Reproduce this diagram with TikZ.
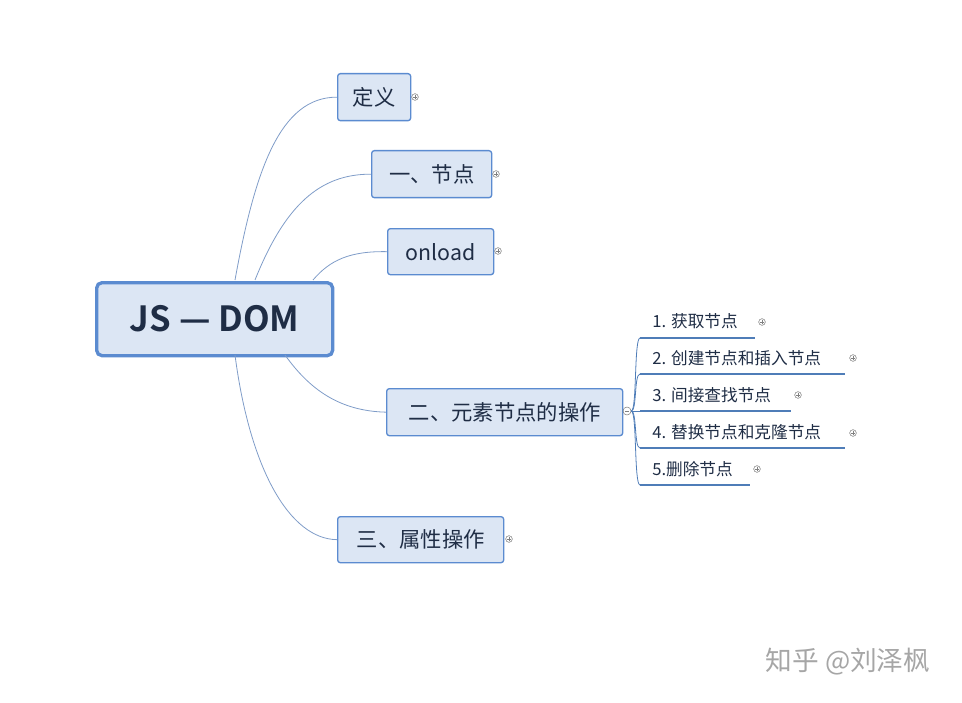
\documentclass[tikz,border=0pt]{standalone}
\usepackage{fontspec}
\setmainfont{Noto Sans CJK SC}[BoldFont=Noto Sans CJK SC Bold]
\definecolor{boxfill}{HTML}{DCE6F4}
\definecolor{boxline}{HTML}{5B8BD0}
\definecolor{txt}{HTML}{1F2D45}
\definecolor{conn}{HTML}{7F9CC8}
\definecolor{uline}{HTML}{4F7DB8}
\begin{document}
\begin{tikzpicture}[x=0.75pt,y=-0.75pt,
  topic/.style={draw=boxline,fill=boxfill,rounded corners=2pt,line width=1pt,text=txt,font=\fontsize{16}{16}\selectfont,inner sep=0pt,anchor=north west},
  sub/.style={anchor=west,text=txt,font=\fontsize{12.5}{12.5}\selectfont,inner sep=0pt},
  con/.style={draw=conn,line width=0.6pt},
  ul/.style={draw=uline,line width=1.6pt},
  pm/.style={circle,draw=gray,line width=0.4pt,minimum size=5pt,inner sep=0pt}]
\useasboundingbox (0,0) rectangle (962,702);
\node[topic,line width=2.5pt,rounded corners=4pt,minimum width=177pt,minimum height=54.75pt,font=\fontsize{26}{26}\selectfont\bfseries] (root) at (95,281) {JS — DOM};
\node[topic,minimum width=54.75pt,minimum height=35.25pt] (a) at (337,73) {定义};
\node[topic,minimum width=90pt,minimum height=35.25pt] (b) at (371,150) {一、节点};
\node[topic,minimum width=79.5pt,minimum height=34.5pt] (c) at (387,228) {onload};
\node[topic,minimum width=177pt,minimum height=35.25pt] (d) at (386,388) {二、元素节点的操作};
\node[topic,minimum width=124.5pt,minimum height=34.5pt] (e) at (337,516) {三、属性操作};
\draw[con] (235,280) .. controls (255,170) and (280,97) .. (a.west);
\draw[con] (255,280) .. controls (285,205) and (320,174) .. (b.west);
\draw[con] (313,280) .. controls (330,260) and (350,251) .. (c.west);
\draw[con] (285,355) .. controls (310,390) and (340,411) .. (d.west);
\draw[con] (235,355) .. controls (250,470) and (290,539) .. (e.west);
\node[pm] (pa) at (415,97) {};
\node[pm] (pb) at (496,174) {};
\node[pm] (pc) at (498,251) {};
\node[pm] (pe) at (509,539) {};
\node[pm,minimum size=6pt] (md) at (627,411) {};
\foreach \p in {pa,pb,pc,pe}{\draw[gray,line width=0.4pt] ([xshift=-1.5pt]\p.center) -- ([xshift=1.5pt]\p.center) ([yshift=-1.5pt]\p.center) -- ([yshift=1.5pt]\p.center);}
\draw[gray,line width=0.4pt] ([xshift=-1.5pt]md.center) -- ([xshift=1.5pt]md.center);
\node[sub] (s1) at (652,321) {1. 获取节点};
\node[sub] (s2) at (652,358) {2. 创建节点和插入节点};
\node[sub] (s3) at (652,395) {3. 间接查找节点};
\node[sub] (s4) at (652,432) {4. 替换节点和克隆节点};
\node[sub] (s5) at (652,469) {5.删除节点};
\coordinate (u1) at (640,338); \coordinate (u2) at (640,374); \coordinate (u3) at (640,411);
\coordinate (u4) at (640,448); \coordinate (u5) at (640,485);
\draw[ul] (u1) -- (755,338);
\draw[ul] (u2) -- (845,374);
\draw[ul] (u3) -- (791,411);
\draw[ul] (u4) -- (845,448);
\draw[ul] (u5) -- (750,485);
\foreach \u in {u1,u2,u4,u5}{\draw[con,draw=uline] (md.east) .. controls (637,411) and ([xshift=-4.5pt]\u) .. (\u);}
\draw[con,draw=uline] (md.east) -- (u3);
\node[pm] (p1) at (762,322) {};
\node[pm] (p2) at (853,358) {};
\node[pm] (p3) at (798,395) {};
\node[pm] (p4) at (853,433) {};
\node[pm] (p5) at (757,469) {};
\foreach \p in {p1,p2,p3,p4,p5}{\draw[gray,line width=0.4pt] ([xshift=-1.5pt]\p.center) -- ([xshift=1.5pt]\p.center) ([yshift=-1.5pt]\p.center) -- ([yshift=1.5pt]\p.center);}
\node[text=black!35,font=\fontsize{20}{20}\selectfont] (wm) at (848,662) {知乎 @刘泽枫};
\end{tikzpicture}
\end{document}
